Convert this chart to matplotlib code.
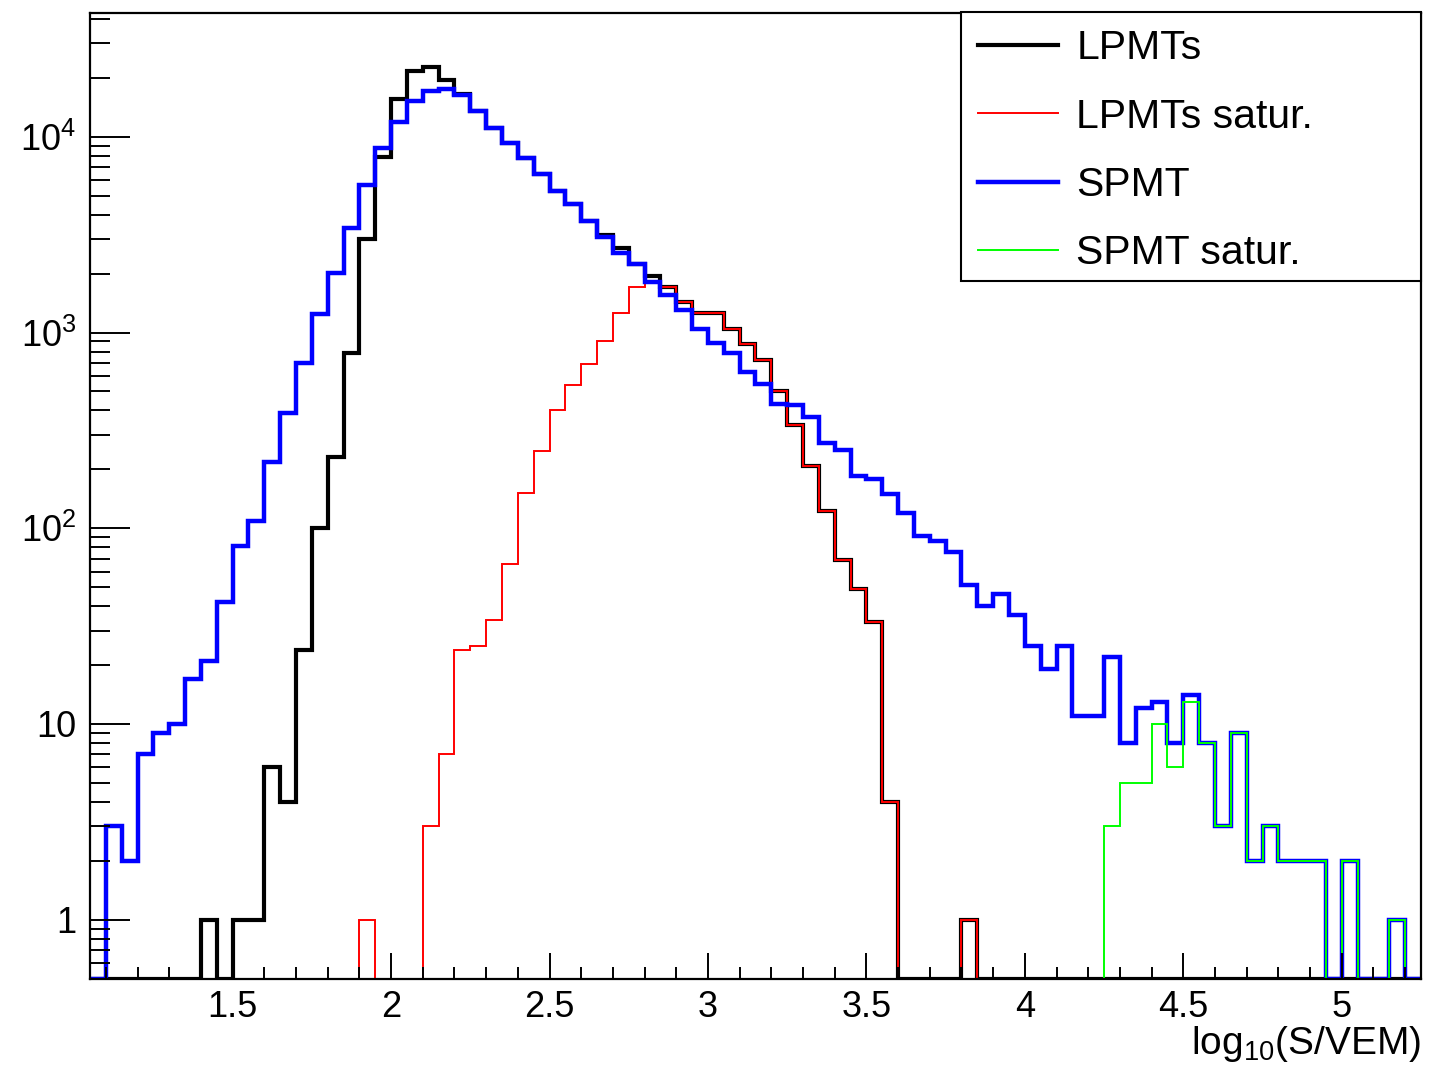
import numpy as np
import matplotlib.pyplot as plt
from matplotlib.lines import Line2D
from matplotlib.patches import Rectangle
from matplotlib.ticker import FixedLocator, LogLocator, NullFormatter

plt.rcParams['font.family'] = ['Liberation Sans', 'DejaVu Sans']
plt.rcParams['mathtext.fontset'] = 'custom'
plt.rcParams['mathtext.rm'] = 'Liberation Sans'
plt.rcParams['mathtext.it'] = 'Liberation Sans:italic'

# histogram binning: log10(S/VEM), 0.05 wide bins
edges = np.round(np.arange(1.05, 5.2501, 0.05), 2)

lpmt = [0, 0, 0, 0, 0, 0, 0, 1, 0, 1, 1, 6, 4, 24, 100, 232, 790, 3000, 7900, 15600,
        21700, 22800, 19500, 16500, 13500, 11100, 9300, 7800, 6450, 5300, 4540, 3720,
        3150, 2700, 2240, 1950, 1700, 1440, 1255, 1255, 1045, 871, 724, 500, 337, 207,
        123, 69, 49, 33, 4, 0, 0, 0, 0, 1, 0, 0, 0, 0, 0, 0, 0, 0, 0, 0, 0, 0, 0, 0,
        0, 0, 0, 0, 0, 0, 0, 0, 0, 0, 0, 0, 0, 0]
lpmt_sat = [0, 0, 0, 0, 0, 0, 0, 0, 0, 0, 0, 0, 0, 0, 0, 0, 0, 1, 0, 0,
            0, 3, 7, 24, 25, 34, 66, 151, 248, 403, 540, 690,
            906, 1255, 1700, 1800, 1700, 1440, 1255, 1255, 1045, 871, 724, 500, 337, 207,
            123, 69, 49, 33, 4, 0, 0, 0, 0, 1, 0, 0, 0, 0, 0, 0, 0, 0, 0, 0, 0, 0, 0, 0,
            0, 0, 0, 0, 0, 0, 0, 0, 0, 0, 0, 0, 0, 0]
spmt = [0, 3, 2, 7, 9, 10, 17, 21, 42, 81, 109, 218, 387, 700, 1250, 2020, 3430, 5700, 8800, 11900,
        15200, 17200, 17500, 16300, 13500, 11100, 9300, 7800, 6450, 5300, 4540, 3720,
        3070, 2540, 2240, 1820, 1560, 1300, 1040, 881, 785, 631, 546, 432, 425, 372,
        274, 251, 184, 178, 149, 119, 91, 86, 76, 51, 40, 46, 36, 25, 19, 25, 11, 11, 22, 8,
        12, 13, 8, 14, 8, 3, 9, 2, 3, 2, 2, 2, 0, 2, 0, 0, 1, 0]
spmt_sat = [0] * 64 + [3, 5, 5, 10, 6, 13, 8, 3, 9, 2, 3, 2, 2, 2, 0, 2, 0, 0, 1, 0]

labels = ['LPMTs', 'LPMTs satur.', 'SPMT', 'SPMT satur.']
colors = ['black', '#ff0000', '#0000ff', '#00ff00']
widths = [3.0, 1.4, 3.2, 1.4]

ymin, ymax = 0.5, 4.32e4

fig = plt.figure(figsize=(14.39, 10.70), dpi=100)
ax = fig.add_axes([90 / 1439, 1 - 978.5 / 1070, (1421 - 90) / 1439, (978.5 - 12.5) / 1070])

for vals, c, lw in zip([lpmt, lpmt_sat, spmt, spmt_sat], colors, widths):
    v = np.array(vals, dtype=float)
    # empty bins are drawn on the bottom of the frame, like ROOT does
    ax.stairs(np.where(v > 0, v, ymin), edges, color=c, lw=lw, baseline=None, clip_on=True)

ax.set_yscale('log')
ax.set_xlim(edges[0], edges[-1])
ax.set_ylim(ymin, ymax)

ax.set_yticks([1, 10, 100, 1000, 10000])
ax.set_yticklabels(['1', '10', '$10^{2}$', '$10^{3}$', '$10^{4}$'])
ax.yaxis.set_minor_locator(LogLocator(base=10, subs=np.arange(2, 10)))
ax.yaxis.set_minor_formatter(NullFormatter())

ax.xaxis.set_major_locator(FixedLocator([1.5, 2, 2.5, 3, 3.5, 4, 4.5, 5]))
ax.set_xticklabels(['1.5', '2', '2.5', '3', '3.5', '4', '4.5', '5'])
ax.xaxis.set_minor_locator(FixedLocator(np.round(np.arange(1.1, 5.25, 0.1), 2)))

ax.tick_params(axis='x', which='major', direction='in', length=19, width=1.4,
               labelsize=26, pad=8, top=False)
ax.tick_params(axis='x', which='minor', direction='in', length=8.6, width=1.4, top=False)
ax.tick_params(axis='y', which='major', direction='in', length=29, width=1.4,
               labelsize=26, pad=10, right=False)
ax.tick_params(axis='y', which='minor', direction='in', length=14.4, width=1.4, right=False)
for s in ax.spines.values():
    s.set_linewidth(1.6)

fig.text(1421 / 1439, 1 - 1054 / 1070, r'log$_{10}$(S/VEM)', ha='right', va='baseline',
         fontsize=28)

# legend box
box = Rectangle((961 / 1439, 1 - 281 / 1070), (1421 - 961) / 1439, (281 - 12) / 1070,
                transform=fig.transFigure, facecolor='white', edgecolor='black',
                lw=1.5, zorder=4.5, clip_on=False)
ax.add_artist(box)
handles = [Line2D([], [], color=c, lw=lw) for c, lw in zip(colors, widths)]
ax.legend(handles, labels, loc='upper left', bbox_to_anchor=(961 / 1439, 1 - 12 / 1070),
          bbox_transform=fig.transFigure, frameon=False, fontsize=29.5,
          handlelength=1.95, handletextpad=0.44, labelspacing=0.74,
          borderpad=0.42, borderaxespad=0)

fig.savefig('out.png', dpi=100)
